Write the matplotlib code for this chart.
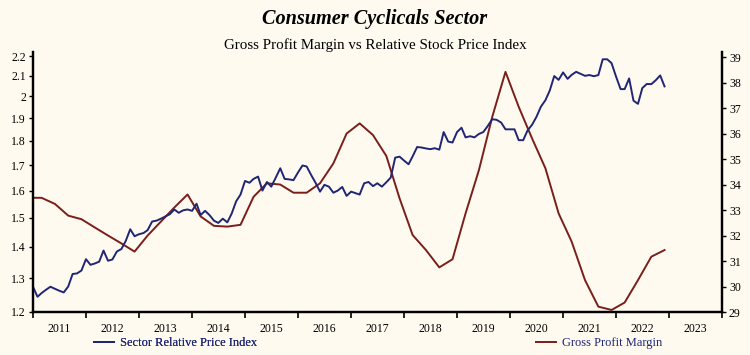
import numpy as np
import pandas as pd
import matplotlib
matplotlib.use('agg')
from matplotlib import pyplot
import matplotlib.dates as mdates
import matplotlib.ticker as mticker

# monthly relative price index, Jan 2011 .. Dec 2022
price_index = [
    1.274, 1.244, 1.255, 1.265, 1.274, 1.268, 1.262, 1.257, 1.275, 1.313, 1.315, 1.324,
    1.360, 1.342, 1.346, 1.352, 1.388, 1.355, 1.359, 1.385, 1.393, 1.420, 1.460, 1.436,
    1.443, 1.447, 1.457, 1.487, 1.490, 1.497, 1.505, 1.513, 1.530, 1.518, 1.527, 1.530,
    1.525, 1.551, 1.510, 1.525, 1.510, 1.490, 1.482, 1.497, 1.484, 1.515, 1.560, 1.585,
    1.637, 1.630, 1.645, 1.654, 1.600, 1.633, 1.615, 1.650, 1.687, 1.645, 1.643, 1.640,
    1.670, 1.698, 1.694, 1.660, 1.630, 1.596, 1.622, 1.615, 1.592, 1.600, 1.614, 1.580,
    1.596, 1.590, 1.585, 1.628, 1.633, 1.617, 1.628, 1.615, 1.632, 1.650, 1.730, 1.734,
    1.718, 1.703, 1.735, 1.774, 1.772, 1.768, 1.765, 1.769, 1.763, 1.838, 1.797, 1.793,
    1.838, 1.857, 1.815, 1.820, 1.815, 1.830, 1.838, 1.865, 1.895, 1.892, 1.880, 1.850,
    1.850, 1.850, 1.803, 1.803, 1.845, 1.870, 1.905, 1.952, 1.982, 2.028, 2.099, 2.080,
    2.117, 2.085, 2.105, 2.120, 2.110, 2.100, 2.104, 2.098, 2.104, 2.184, 2.184, 2.164,
    2.096, 2.035, 2.035, 2.087, 1.980, 1.965, 2.040, 2.060, 2.059, 2.078, 2.102, 2.048,
]
price_dates = pd.date_range('2011-01-01', periods=len(price_index), freq='MS')

# quarterly gross profit margin, Dec 2010 .. Dec 2022
margin = [
    33.48,
    33.48, 33.24, 32.78, 32.64,
    32.32, 32.00, 31.69, 31.37,
    32.00, 32.55, 33.10, 33.61,
    32.75, 32.38, 32.35, 32.42,
    33.52, 34.05, 34.00, 33.68,
    33.68, 34.05, 34.83, 36.00,
    36.40, 35.94, 35.12, 33.46,
    32.02, 31.43, 30.75, 31.07,
    32.87, 34.57, 36.66, 38.42,
    37.05, 35.81, 34.64, 32.87,
    31.76, 30.25, 29.21, 29.08,
    29.37, 30.25, 31.17, 31.43,
]
margin_dates = pd.date_range('2010-12-01', periods=len(margin), freq='3MS')

left_ticks = [1.2, 1.3, 1.4, 1.5, 1.6, 1.7, 1.8, 1.9, 2.0, 2.1, 2.2]
right_ticks = list(range(29, 40))

bg = '#fefaf0'
navy = '#1f2675'
maroon = '#7a1e1a'

pyplot.rcParams['font.family'] = ['Liberation Serif', 'DejaVu Serif']

fig = pyplot.figure(figsize=(7.5, 3.55), dpi=100, facecolor=bg)
ax = fig.add_axes([33 / 750, 1 - 312 / 355, (722 - 33) / 750, 260 / 355])
ax.set_facecolor(bg)
ax2 = ax.twinx()

line_price, = ax.plot(price_dates, price_index, color=navy, linewidth=1.4,
                      label='Sector Relative Price Index')
line_margin, = ax2.plot(margin_dates, margin, color=maroon, linewidth=1.4,
                        label='Gross Profit Margin')
ax.set_zorder(ax2.get_zorder() + 1)
ax.patch.set_visible(False)
ax2.set_facecolor(bg)

ax.set_yscale('log')
ax.set_ylim(1.2, 2.222)
ax.yaxis.set_major_locator(mticker.FixedLocator(left_ticks))
ax.yaxis.set_major_formatter(mticker.FuncFormatter(lambda v, p: '%g' % v))
ax.yaxis.set_minor_locator(mticker.NullLocator())
ax2.set_ylim(29, 39.2)
ax2.set_yticks(right_ticks)

ax.set_xlim(pd.Timestamp('2011-01-01'), pd.Timestamp('2024-01-01'))
ax.xaxis.set_major_locator(mdates.YearLocator(month=7))
ax.xaxis.set_major_formatter(mdates.DateFormatter('%Y'))
ax.xaxis.set_minor_locator(mdates.YearLocator())
ax.tick_params(axis='x', which='major', length=0, pad=8, labelsize=8.5)
ax.tick_params(axis='x', which='minor', length=4, width=1.2, direction='out')
ax.tick_params(axis='y', length=3, width=1, labelsize=8.5, pad=2)
ax2.tick_params(axis='y', length=3, width=1, labelsize=8.5, pad=2)

for a in (ax, ax2):
    a.spines['top'].set_visible(False)
    for s in ('left', 'right', 'bottom'):
        a.spines[s].set_linewidth(1.6)

fig.text(0.5, 0.947, 'Consumer Cyclicals Sector', ha='center', va='center',
         fontsize=14.6, fontweight='bold', fontstyle='italic')
fig.text(0.5, 0.873, 'Gross Profit Margin vs Relative Stock Price Index',
         ha='center', va='center', fontsize=10.8)

leg1 = fig.legend(handles=[line_price], loc='center left',
                  bbox_to_anchor=(83 / 750, 1 - 343 / 355), frameon=False,
                  handlelength=1.6, handletextpad=0.45, fontsize=9, labelcolor=navy)
fig.add_artist(leg1)
fig.legend(handles=[line_margin], loc='center left',
           bbox_to_anchor=(525 / 750, 1 - 343 / 355), frameon=False,
           handlelength=1.6, handletextpad=0.45, fontsize=9, labelcolor=navy)

pyplot.savefig('out.png', dpi=100, facecolor=bg)
